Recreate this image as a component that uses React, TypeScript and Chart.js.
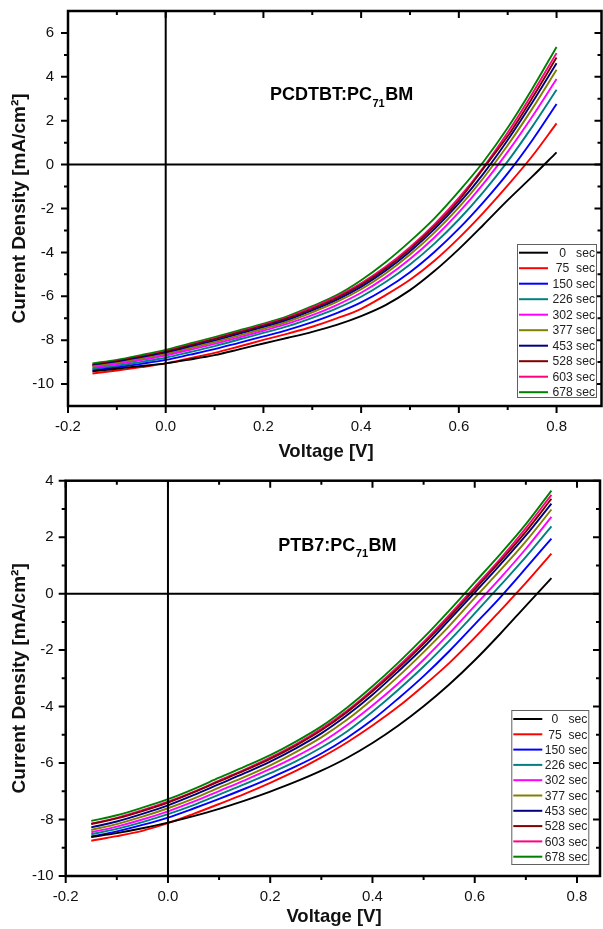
import React, { useEffect, useRef } from 'react';
import { Chart, registerables } from 'chart.js';

Chart.register(...registerables);

const FONT = '"Liberation Sans", Arial, Helvetica, sans-serif';

// ---------- shared ----------
const TIMES = [0, 75, 150, 226, 302, 377, 453, 528, 603, 678];
const SERIES_COLORS = ['#000000', '#FF0000', '#0000FF', '#008080', '#FF00FF', '#808000', '#000080', '#800000', '#FF0080', '#008000'];
const X_TICKS = [-0.2, 0.0, 0.2, 0.4, 0.6, 0.8];
const X_MINOR = [-0.1, 0.1, 0.3, 0.5, 0.7];
const X_TITLE = 'Voltage [V]';
const Y_TITLE = 'Current Density [mA/cm²]';

// ---------- top panel: PCDTBT:PC71BM ----------
const PCDTBT_Y_TICKS = [-10, -8, -6, -4, -2, 0, 2, 4, 6];
const PCDTBT_Y_MINOR = [-9, -7, -5, -3, -1, 1, 3, 5];
const PCDTBT_V = [-0.15, -0.1, -0.05, 0, 0.05, 0.1, 0.15, 0.2, 0.25, 0.3, 0.35, 0.4, 0.45, 0.5, 0.55, 0.6, 0.65, 0.7, 0.75, 0.8];
const PCDTBT_0 = [-9.42, -9.30, -9.18, -9.06, -8.88, -8.68, -8.42, -8.15, -7.89, -7.62, -7.30, -6.90, -6.40, -5.72, -4.85, -3.85, -2.75, -1.62, -0.55, 0.56];
const PCDTBT_75 = [-9.52, -9.38, -9.23, -9.06, -8.82, -8.58, -8.29, -7.99, -7.70, -7.39, -7.01, -6.57, -5.95, -5.25, -4.38, -3.35, -2.20, -0.95, 0.38, 1.88];
const PCDTBT_150 = [-9.38, -9.24, -9.08, -8.90, -8.66, -8.41, -8.12, -7.83, -7.53, -7.18, -6.77, -6.28, -5.66, -4.90, -3.98, -2.92, -1.72, -0.40, 1.10, 2.76];
const PCDTBT_226 = [-9.31, -9.17, -8.99, -8.80, -8.54, -8.27, -7.97, -7.67, -7.36, -6.98, -6.55, -6.02, -5.35, -4.55, -3.60, -2.50, -1.25, 0.15, 1.72, 3.41];
const PCDTBT_302 = [-9.26, -9.10, -8.91, -8.70, -8.44, -8.17, -7.88, -7.57, -7.25, -6.86, -6.40, -5.84, -5.14, -4.30, -3.32, -2.18, -0.88, 0.58, 2.18, 3.90];
const PCDTBT_377 = [-9.20, -9.05, -8.85, -8.64, -8.37, -8.09, -7.79, -7.48, -7.15, -6.73, -6.26, -5.68, -4.96, -4.10, -3.10, -1.95, -0.62, 0.88, 2.54, 4.32];
const PCDTBT_453 = [-9.16, -9.00, -8.80, -8.58, -8.30, -8.02, -7.71, -7.40, -7.07, -6.64, -6.16, -5.57, -4.84, -3.96, -2.94, -1.77, -0.42, 1.12, 2.82, 4.62];
const PCDTBT_528 = [-9.12, -8.96, -8.75, -8.52, -8.24, -7.95, -7.65, -7.34, -7.00, -6.57, -6.08, -5.48, -4.74, -3.85, -2.82, -1.63, -0.18, 1.30, 3.03, 4.88];
const PCDTBT_603 = [-9.13, -8.97, -8.75, -8.51, -8.22, -7.93, -7.62, -7.30, -6.96, -6.51, -6.02, -5.41, -4.66, -3.76, -2.72, -1.52, -0.13, 1.46, 3.22, 5.08];
const PCDTBT_678 = [-9.06, -8.90, -8.68, -8.44, -8.15, -7.86, -7.56, -7.25, -6.90, -6.45, -5.95, -5.27, -4.45, -3.50, -2.45, -1.22, 0.12, 1.68, 3.45, 5.36];

// ---------- bottom panel: PTB7:PC71BM ----------
const PTB7_Y_TICKS = [-10, -8, -6, -4, -2, 0, 2, 4];
const PTB7_Y_MINOR = [-9, -7, -5, -3, -1, 1, 3];
const PTB7_V = [-0.15, -0.1, -0.05, 0, 0.05, 0.1, 0.15, 0.2, 0.25, 0.3, 0.35, 0.4, 0.45, 0.5, 0.55, 0.6, 0.65, 0.7, 0.75];
const PTB7_0 = [-8.62, -8.48, -8.31, -8.11, -7.88, -7.62, -7.33, -7.01, -6.66, -6.27, -5.82, -5.29, -4.68, -3.99, -3.22, -2.36, -1.42, -0.43, 0.55];
const PTB7_75 = [-8.75, -8.59, -8.40, -8.13, -7.80, -7.45, -7.09, -6.70, -6.28, -5.80, -5.27, -4.67, -4.01, -3.26, -2.46, -1.56, -0.60, 0.38, 1.42];
const PTB7_150 = [-8.60, -8.42, -8.19, -7.93, -7.61, -7.27, -6.91, -6.53, -6.12, -5.66, -5.11, -4.47, -3.72, -2.92, -2.04, -1.09, -0.13, 0.90, 1.95];
const PTB7_226 = [-8.52, -8.33, -8.09, -7.81, -7.49, -7.12, -6.75, -6.36, -5.94, -5.45, -4.88, -4.18, -3.41, -2.58, -1.67, -0.70, 0.29, 1.30, 2.38];
const PTB7_302 = [-8.45, -8.25, -8.00, -7.71, -7.37, -6.99, -6.61, -6.21, -5.77, -5.27, -4.66, -3.96, -3.19, -2.34, -1.41, -0.43, 0.55, 1.59, 2.72];
const PTB7_377 = [-8.37, -8.16, -7.90, -7.60, -7.26, -6.87, -6.49, -6.08, -5.61, -5.09, -4.47, -3.74, -2.94, -2.07, -1.15, -0.15, 0.83, 1.85, 2.98];
const PTB7_453 = [-8.28, -8.07, -7.80, -7.50, -7.14, -6.75, -6.36, -5.95, -5.48, -4.95, -4.31, -3.58, -2.76, -1.90, -0.94, 0.04, 1.03, 2.06, 3.19];
const PTB7_528 = [-8.16, -7.96, -7.70, -7.40, -7.04, -6.65, -6.26, -5.85, -5.38, -4.84, -4.20, -3.46, -2.65, -1.78, -0.84, 0.15, 1.15, 2.20, 3.36];
const PTB7_603 = [-8.15, -7.94, -7.67, -7.37, -7.02, -6.62, -6.23, -5.81, -5.34, -4.79, -4.15, -3.40, -2.58, -1.71, -0.76, 0.23, 1.23, 2.32, 3.50];
const PTB7_678 = [-8.05, -7.85, -7.58, -7.28, -6.92, -6.52, -6.13, -5.72, -5.24, -4.70, -4.04, -3.28, -2.45, -1.56, -0.60, 0.40, 1.40, 2.46, 3.65];

type Panel = {
  v: number[];
  series: number[][];
  xMax: number;
  yMin: number;
  yMax: number;
  yTicks: number[];
  yMinor: number[];
  height: number;
  padTop: number;
  padRight: number;
  yAxisWidth: number;
  xAxisHeight: number;
  yTickPad: number;
  xTitleDx: number;
  xTitleY: number;
  label: [string, string, string];
  labelDx: number;
  labelDy: number;
  legend: { rightInset: number; bottomInset: number; w: number; h: number; first: number; rowH: number };
};

const PANELS: Panel[] = [
  {
    v: PCDTBT_V,
    series: [PCDTBT_0, PCDTBT_75, PCDTBT_150, PCDTBT_226, PCDTBT_302, PCDTBT_377, PCDTBT_453, PCDTBT_528, PCDTBT_603, PCDTBT_678],
    xMax: 0.892, yMin: -11, yMax: 7,
    yTicks: PCDTBT_Y_TICKS, yMinor: PCDTBT_Y_MINOR,
    height: 466, padTop: 11, padRight: 1.5, yAxisWidth: 68, xAxisHeight: 60, yTickPad: 14,
    xTitleDx: 258, xTitleY: 452,
    label: ['PCDTBT:PC', '71', 'BM'], labelDx: 202, labelDy: 89,
    legend: { rightInset: 4.5, bottomInset: 8, w: 80, h: 154, first: 8.7, rowH: 15.5 },
  },
  {
    v: PTB7_V,
    series: [PTB7_0, PTB7_75, PTB7_150, PTB7_226, PTB7_302, PTB7_377, PTB7_453, PTB7_528, PTB7_603, PTB7_678],
    xMax: 0.845, yMin: -10, yMax: 4,
    yTicks: PTB7_Y_TICKS, yMinor: PTB7_Y_MINOR,
    height: 463, padTop: 14.7, padRight: 3, yAxisWidth: 65.7, xAxisHeight: 53, yTickPad: 12,
    xTitleDx: 268.3, xTitleY: 451,
    label: ['PTB7:PC', '71', 'BM'], labelDx: 212.6, labelDy: 70,
    legend: { rightInset: 10.7, bottomInset: 11, w: 78, h: 155, first: 9, rowH: 15.3 },
  },
];

function makeOverlay(p: Panel) {
  return {
    id: 'overlay',
    afterDatasetsDraw(chart: any) {
      const { ctx, chartArea: a } = chart;
      const xs = chart.scales.x;
      const ys = chart.scales.y;
      ctx.save();
      ctx.strokeStyle = '#000';
      ctx.lineCap = 'butt';

      // zero lines
      ctx.lineWidth = 2;
      const x0 = xs.getPixelForValue(0);
      const y0 = ys.getPixelForValue(0);
      ctx.beginPath();
      ctx.moveTo(x0, a.top);
      ctx.lineTo(x0, a.bottom);
      ctx.moveTo(a.left, y0);
      ctx.lineTo(a.right, y0);
      ctx.stroke();

      // ticks: bottom/left outward, top/right inward
      const drawX = (vals: number[], len: number) => {
        for (const v of vals) {
          const px = xs.getPixelForValue(v);
          ctx.moveTo(px, a.bottom);
          ctx.lineTo(px, a.bottom + len);
          ctx.moveTo(px, a.top);
          ctx.lineTo(px, a.top + len);
        }
      };
      const drawY = (vals: number[], len: number) => {
        for (const v of vals) {
          const py = ys.getPixelForValue(v);
          ctx.moveTo(a.left, py);
          ctx.lineTo(a.left - len, py);
          ctx.moveTo(a.right, py);
          ctx.lineTo(a.right - len, py);
        }
      };
      ctx.lineWidth = 2;
      ctx.beginPath();
      drawX(X_TICKS, 7);
      drawX(X_MINOR, 4);
      drawY(p.yTicks, 7);
      drawY(p.yMinor, 4);
      ctx.stroke();

      // frame
      ctx.lineWidth = 2.5;
      ctx.strokeRect(a.left, a.top, a.right - a.left, a.bottom - a.top);

      // x axis title
      ctx.fillStyle = '#111';
      ctx.font = `bold 18.5px ${FONT}`;
      ctx.textAlign = 'center';
      ctx.textBaseline = 'middle';
      ctx.fillText(X_TITLE, a.left + p.xTitleDx, p.xTitleY);

      // sample label with subscript
      ctx.fillStyle = '#000';
      ctx.textBaseline = 'alphabetic';
      ctx.textAlign = 'left';
      let lx = a.left + p.labelDx;
      const ly = a.top + p.labelDy;
      ctx.font = `bold 18px ${FONT}`;
      ctx.fillText(p.label[0], lx, ly);
      lx += ctx.measureText(p.label[0]).width;
      ctx.font = `bold 11px ${FONT}`;
      ctx.fillText(p.label[1], lx + 0.5, ly + 6.5);
      lx += ctx.measureText(p.label[1]).width + 1;
      ctx.font = `bold 18px ${FONT}`;
      ctx.fillText(p.label[2], lx, ly);

      // legend
      const L = p.legend;
      const bx1 = a.right - L.rightInset;
      const by1 = a.bottom - L.bottomInset;
      const bx0 = bx1 - L.w;
      const by0 = by1 - L.h;
      ctx.fillStyle = '#fff';
      ctx.fillRect(bx0, by0, L.w, L.h);
      ctx.strokeStyle = '#606060';
      ctx.lineWidth = 1;
      ctx.strokeRect(bx0 + 0.5, by0 + 0.5, L.w - 1, L.h - 1);
      TIMES.forEach((t, i) => {
        const ry = by0 + L.first + i * L.rowH;
        ctx.strokeStyle = SERIES_COLORS[i];
        ctx.lineWidth = 2;
        ctx.beginPath();
        ctx.moveTo(bx0 + 2, ry);
        ctx.lineTo(bx0 + 31, ry);
        ctx.stroke();
        ctx.save();
        ctx.translate(bx1 - 2, ry + 0.5);
        ctx.scale(0.9, 1);
        ctx.font = `13.5px ${FONT}`;
        ctx.textAlign = 'right';
        ctx.textBaseline = 'middle';
        ctx.fillStyle = '#222';
        ctx.fillText(`${t}`.padEnd(3, ' ') + ' sec', 0, 0);
        ctx.restore();
      });
      ctx.restore();
    },
  };
}

function buildConfig(p: Panel): any {
  const fixX = (s: any) => {
    s.height = p.xAxisHeight;
    s.paddingLeft = 0;
    s.paddingRight = 0;
    s.paddingTop = 0;
    s.paddingBottom = 0;
  };
  const fixY = (s: any) => {
    s.width = p.yAxisWidth;
    s.paddingLeft = 0;
    s.paddingRight = 0;
    s.paddingTop = 0;
    s.paddingBottom = 0;
  };
  return {
    type: 'line',
    data: {
      datasets: p.series.map((ys, i) => ({
        label: `${TIMES[i]} sec`,
        data: p.v.map((x, k) => ({ x, y: ys[k] })),
        borderColor: SERIES_COLORS[i],
        backgroundColor: SERIES_COLORS[i],
        borderWidth: 1.9,
        pointRadius: 0,
        cubicInterpolationMode: 'monotone',
        fill: false,
      })),
    },
    options: {
      responsive: false,
      animation: false,
      events: [],
      layout: { padding: { top: p.padTop, right: p.padRight, bottom: 0, left: 0 } },
      plugins: { legend: { display: false }, tooltip: { enabled: false }, title: { display: false } },
      scales: {
        x: {
          type: 'linear',
          min: -0.2,
          max: p.xMax,
          afterBuildTicks: (s: any) => { s.ticks = X_TICKS.map((value) => ({ value })); },
          afterFit: fixX,
          grid: { display: false, drawTicks: false },
          border: { display: false },
          ticks: {
            autoSkip: false,
            maxRotation: 0,
            padding: 12,
            color: '#111',
            font: { family: FONT, size: 15 },
            callback: (v: any) => Number(v).toFixed(1),
          },
          title: { display: false },
        },
        y: {
          type: 'linear',
          min: p.yMin,
          max: p.yMax,
          afterBuildTicks: (s: any) => { s.ticks = p.yTicks.map((value) => ({ value })); },
          afterFit: fixY,
          grid: { display: false, drawTicks: false },
          border: { display: false },
          ticks: {
            autoSkip: false,
            padding: p.yTickPad,
            color: '#111',
            font: { family: FONT, size: 15 },
            callback: (v: any) => String(Number(v)),
          },
          title: {
            display: true,
            text: Y_TITLE,
            color: '#111',
            font: { family: FONT, size: 19, weight: 'bold' },
            padding: { top: 8.5, bottom: 0 },
          },
        },
      },
    },
    plugins: [makeOverlay(p)],
  };
}

export default function App() {
  const topRef = useRef<HTMLCanvasElement | null>(null);
  const botRef = useRef<HTMLCanvasElement | null>(null);

  useEffect(() => {
    const charts: Chart[] = [];
    [topRef.current, botRef.current].forEach((c, i) => {
      if (c) charts.push(new Chart(c, buildConfig(PANELS[i])));
    });
    return () => charts.forEach((ch) => ch.destroy());
  }, []);

  return (
    <div style={{ position: 'absolute', left: 0, top: 0, width: 603, height: 929, background: '#fff' }}>
      <canvas ref={topRef} width={603} height={PANELS[0].height} style={{ display: 'block', width: 603, height: PANELS[0].height }} />
      <canvas ref={botRef} width={603} height={PANELS[1].height} style={{ display: 'block', width: 603, height: PANELS[1].height }} />
    </div>
  );
}
